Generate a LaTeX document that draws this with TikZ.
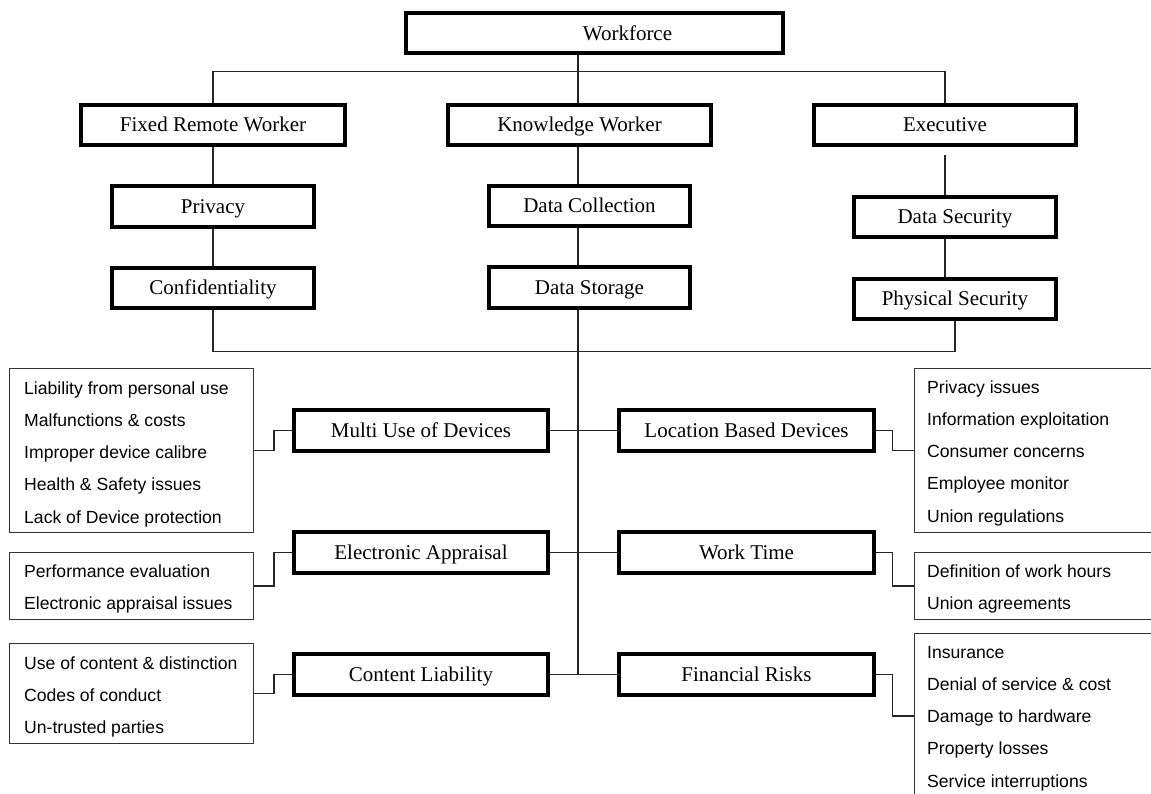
\documentclass[tikz,border=0pt]{standalone}
\usepackage{fontspec}
\setmainfont{Liberation Serif}
\newfontfamily\itemfont{Liberation Sans}
\begin{document}
\begin{tikzpicture}[x=1pt,y=-1pt,
  tbox/.style={draw=black, line width=4pt, fill=white, inner sep=0pt,
    minimum height=40pt, font=\fontsize{21}{25}\selectfont,
    text height=13.9pt, text depth=0pt},
  lbox/.style={draw=black!80, line width=1.3pt, fill=white, inner sep=0pt},
  item/.style={anchor=base west, inner sep=0pt, font=\itemfont\fontsize{17.6}{20}\selectfont},
  conn/.style={draw=black!85, line width=1.3pt}]
\useasboundingbox[fill=white] (0,0) rectangle (1151,794);

% helper coordinates
\coordinate (cx) at (578,0);
\coordinate (tb) at (0,71.5);
\coordinate (hb) at (0,351.5);
\coordinate (lx) at (274,0);
\coordinate (rx) at (892.5,0);

% thick boxes
\node[tbox, minimum width=377pt] (wf) at (594.5,33.5) {\hspace*{66pt}Workforce};
\node[tbox, minimum width=264pt] (frw) at (213,125) {Fixed Remote Worker};
\node[tbox, minimum width=263pt] (kw) at (579.5,125) {Knowledge Worker};
\node[tbox, minimum width=262pt] (ex) at (945,125) {Executive};
\node[tbox, minimum width=202pt, minimum height=41pt] (priv) at (213,206.5) {Privacy};
\node[tbox, minimum width=202pt] (conf) at (213,288) {Confidentiality};
\node[tbox, minimum width=201pt] (dc) at (589.5,206) {Data Collection};
\node[tbox, minimum width=201pt, minimum height=41pt] (ds) at (589.5,287.5) {Data Storage};
\node[tbox, minimum width=202pt] (dsec) at (955,217) {Data Security};
\node[tbox, minimum width=202pt] (psec) at (955,299) {Physical Security};
\node[tbox, minimum width=254pt, minimum height=41pt] (mud) at (421,430.5) {Multi Use of Devices};
\node[tbox, minimum width=255pt, minimum height=41pt] (lbd) at (746.5,430.5) {Location Based Devices};
\node[tbox, minimum width=254pt, minimum height=41pt] (ea) at (421,552.5) {Electronic Appraisal};
\node[tbox, minimum width=255pt, minimum height=41pt] (wt) at (746.5,552.5) {Work Time};
\node[tbox, minimum width=254pt, minimum height=41pt] (cl) at (421,674.5) {Content Liability};
\node[tbox, minimum width=255pt, minimum height=41pt] (fr) at (746.5,674.5) {Financial Risks};

% list boxes
\node[lbox, minimum width=243.7pt, minimum height=163.7pt] (L1) at (131.5,450.5) {};
\node[lbox, minimum width=243.7pt, minimum height=66.7pt] (L2) at (131.5,586) {};
\node[lbox, minimum width=243.7pt, minimum height=99.7pt] (L3) at (131.5,693.5) {};
\node[lbox, minimum width=254.7pt, minimum height=163.7pt] (R1) at (1042,450.5) {};
\node[lbox, minimum width=254.7pt, minimum height=66.7pt] (R2) at (1042,586) {};
\node[lbox, minimum width=254.7pt, minimum height=164.7pt] (R3) at (1042,716) {};

% list items
\foreach \t [count=\i] in {Liability from personal use, Malfunctions \& costs, Improper device calibre, Health \& Safety issues, Lack of Device protection}
  \node[item] (l1\i) at (24,{394+32.25*(\i-1)}) {\t};
\foreach \t [count=\i] in {Performance evaluation, Electronic appraisal issues}
  \node[item] (l2\i) at (24,{577+32.25*(\i-1)}) {\t};
\foreach \t [count=\i] in {Use of content \& distinction, Codes of conduct, Un-trusted parties}
  \node[item] (l3\i) at (24,{669+32.25*(\i-1)}) {\t};
\foreach \t [count=\i] in {Privacy issues, Information exploitation, Consumer concerns, Employee monitor, Union regulations}
  \node[item] (r1\i) at (927,{393+32.25*(\i-1)}) {\t};
\foreach \t [count=\i] in {Definition of work hours, Union agreements}
  \node[item] (r2\i) at (927,{577+32.25*(\i-1)}) {\t};
\foreach \t [count=\i] in {Insurance, Denial of service \& cost, Damage to hardware, Property losses, Service interruptions}
  \node[item] (r3\i) at (927,{658+32.25*(\i-1)}) {\t};

% connectors: top level
\draw[conn] (frw.north) -- (frw.north |- tb) -- (ex.north |- tb) -- (ex.north);
\draw[conn] (wf.south -| cx) -- (kw.north -| cx);
\draw[conn] (kw.south -| cx) -- (dc.north -| cx);
\draw[conn] (dc.south -| cx) -- (ds.north -| cx);
\draw[conn] (ds.south -| cx) -- (cl.east -| cx);
% left branch
\draw[conn] (frw.south) -- (priv.north);
\draw[conn] (priv.south) -- (conf.north);
% right branch
\draw[conn] ([yshift=-8pt]ex.south) -- (dsec.north -| ex.south);
\draw[conn] (dsec.south -| ex.south) -- (psec.north -| ex.south);
% lower bar
\draw[conn] (conf.south) -- (conf.south |- hb) -- (psec.south |- hb) -- (psec.south);
% middle rows
\draw[conn] (mud.east) -- (lbd.west);
\draw[conn] (ea.east) -- (wt.west);
\draw[conn] (cl.east) -- (fr.west);
% elbows left
\draw[conn] (mud.west) -- (mud.west -| lx) -- (L1.east -| lx) -- (L1.east);
\draw[conn] (ea.west) -- (ea.west -| lx) -- (L2.east -| lx) -- (L2.east);
\draw[conn] (cl.west) -- (cl.west -| lx) -- (L3.east -| lx) -- (L3.east);
% elbows right
\draw[conn] (lbd.east) -- (lbd.east -| rx) -- (R1.west -| rx) -- (R1.west);
\draw[conn] (wt.east) -- (wt.east -| rx) -- (R2.west -| rx) -- (R2.west);
\draw[conn] (fr.east) -- (fr.east -| rx) -- (R3.west -| rx) -- (R3.west);
\end{tikzpicture}
\end{document}
